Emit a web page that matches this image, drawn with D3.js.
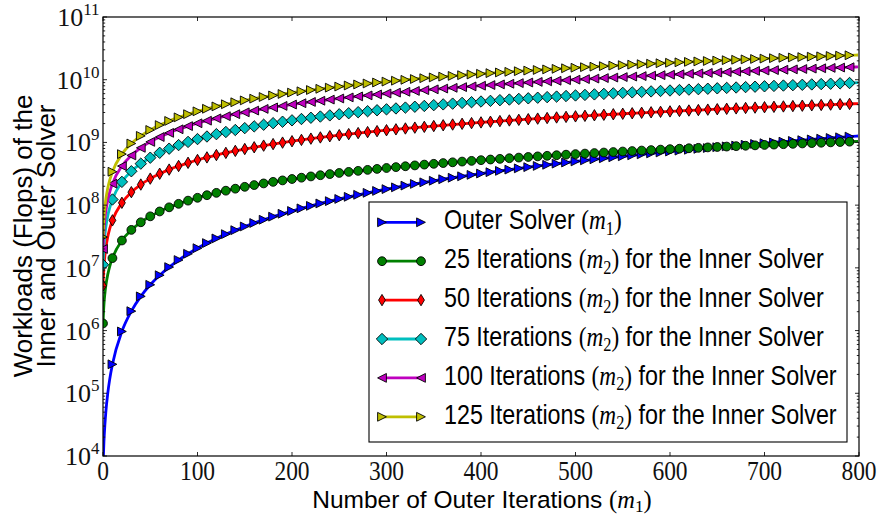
<!DOCTYPE html>
<html>
<head>
<meta charset="utf-8">
<script src="https://cdn.jsdelivr.net/npm/d3@7"></script>
<style>
  body { margin: 0; background: #fff; }
  svg { display: block; }
</style>
</head>
<body>
<svg id="chart" width="878" height="516"></svg>
<script>
// Outer iteration index (m1 = index + 1)
const outerIndex = [0, 1, 2, 3, 5, 7,
  10, 20, 30, 40, 50, 60, 70, 80, 90, 100, 110, 120, 130, 140, 150, 160, 170, 180, 190, 200,
  210, 220, 230, 240, 250, 260, 270, 280, 290, 300, 310, 320, 330, 340, 350, 360, 370, 380, 390, 400,
  410, 420, 430, 440, 450, 460, 470, 480, 490, 500, 510, 520, 530, 540, 550, 560, 570, 580, 590, 600,
  610, 620, 630, 640, 650, 660, 670, 680, 690, 700, 710, 720, 730, 740, 750, 760, 770, 780, 790, 799];

// Workloads in millions of flops
const outerSolver = [0.00663, 0.0172, 0.0317, 0.0502, 0.099, 0.1635,
  0.29, 0.968, 2.04, 3.51, 5.37, 7.63, 10.28, 13.33, 16.77, 20.6, 24.83, 29.46, 34.48, 39.89, 45.7, 51.91, 58.51, 65.5, 72.89, 80.67,
  88.85, 97.42, 106.4, 115.8, 125.5, 135.7, 146.2, 157.1, 168.5, 180.2, 192.3, 204.9, 217.8, 231.1, 244.8, 258.9, 273.4, 288.3, 303.6, 319.2,
  335.3, 351.8, 368.6, 385.9, 403.5, 421.6, 440, 458.9, 478.1, 497.7, 517.7, 538.1, 559, 580.2, 601.8, 623.7, 646.1, 668.9, 692.1, 715.7,
  739.6, 764, 788.8, 813.9, 839.4, 865.4, 891.7, 918.5, 945.6, 973.1, 1001, 1029, 1058, 1087, 1117, 1147, 1177, 1208, 1239, 1267];

const inner25 = [1.3, 2.6, 3.9, 5.2, 7.8, 10.4,
  14.3, 27.3, 40.3, 53.3, 66.3, 79.3, 92.3, 105, 118, 131, 144, 157, 170, 183, 196, 209, 222, 235, 248, 261,
  274, 287, 300, 313, 326, 339, 352, 365, 378, 391, 404, 417, 430, 443, 456, 469, 482, 495, 508, 521,
  534, 547, 560, 573, 586, 599, 612, 625, 638, 651, 664, 677, 690, 703, 716, 729, 742, 755, 768, 781,
  794, 807, 820, 833, 846, 859, 872, 885, 898, 911, 924, 937, 950, 963, 976, 989, 1002, 1015, 1028, 1040];

const inner50 = [5.2, 10.4, 15.6, 20.8, 31.2, 41.6,
  57.2, 109, 161, 213, 265, 317, 369, 421, 473, 525, 577, 629, 681, 733, 785, 837, 889, 941, 993, 1045,
  1097, 1149, 1201, 1253, 1305, 1357, 1409, 1461, 1513, 1565, 1617, 1669, 1721, 1773, 1825, 1877, 1929, 1981, 2033, 2085,
  2137, 2189, 2241, 2293, 2345, 2397, 2449, 2501, 2553, 2605, 2657, 2709, 2761, 2813, 2865, 2917, 2969, 3021, 3073, 3125,
  3177, 3229, 3281, 3333, 3385, 3437, 3489, 3541, 3593, 3645, 3697, 3749, 3801, 3853, 3905, 3957, 4009, 4061, 4113, 4160];

const inner75 = [11.2, 22.4, 33.6, 44.8, 67.2, 89.6,
  123, 235, 347, 459, 571, 683, 795, 907, 1019, 1131, 1243, 1355, 1467, 1579, 1691, 1803, 1915, 2027, 2139, 2251,
  2363, 2475, 2587, 2699, 2811, 2923, 3035, 3147, 3259, 3371, 3483, 3595, 3707, 3819, 3931, 4043, 4155, 4267, 4379, 4491,
  4603, 4715, 4827, 4939, 5051, 5163, 5275, 5387, 5499, 5611, 5723, 5835, 5947, 6059, 6171, 6283, 6395, 6507, 6619, 6731,
  6843, 6955, 7067, 7179, 7291, 7403, 7515, 7627, 7739, 7851, 7963, 8075, 8187, 8299, 8411, 8523, 8635, 8747, 8859, 8960];

const inner100 = [20, 40, 60, 80, 120, 160,
  220, 420, 620, 820, 1020, 1220, 1420, 1620, 1820, 2020, 2220, 2420, 2620, 2820, 3020, 3220, 3420, 3620, 3820, 4020,
  4220, 4420, 4620, 4820, 5020, 5220, 5420, 5620, 5820, 6020, 6220, 6420, 6620, 6820, 7020, 7220, 7420, 7620, 7820, 8020,
  8220, 8420, 8620, 8820, 9020, 9220, 9420, 9620, 9820, 10020, 10220, 10420, 10620, 10820, 11020, 11220, 11420, 11620, 11820, 12020,
  12220, 12420, 12620, 12820, 13020, 13220, 13420, 13620, 13820, 14020, 14220, 14420, 14620, 14820, 15020, 15220, 15420, 15620, 15820, 16000];

const inner125 = [31, 62, 93, 124, 186, 248,
  341, 651, 961, 1271, 1581, 1891, 2201, 2511, 2821, 3131, 3441, 3751, 4061, 4371, 4681, 4991, 5301, 5611, 5921, 6231,
  6541, 6851, 7161, 7471, 7781, 8091, 8401, 8711, 9021, 9331, 9641, 9951, 10261, 10571, 10881, 11191, 11501, 11811, 12121, 12431,
  12741, 13051, 13361, 13671, 13981, 14291, 14601, 14911, 15221, 15531, 15841, 16151, 16461, 16771, 17081, 17391, 17701, 18011, 18321, 18631,
  18941, 19251, 19561, 19871, 20181, 20491, 20801, 21111, 21421, 21731, 22041, 22351, 22661, 22971, 23281, 23591, 23901, 24211, 24521, 24800];

const seriesLabels = [
  ["Outer Solver ", "1", ""],
  ["25 Iterations ", "2", " for the Inner Solver"],
  ["50 Iterations ", "2", " for the Inner Solver"],
  ["75 Iterations ", "2", " for the Inner Solver"],
  ["100 Iterations ", "2", " for the Inner Solver"],
  ["125 Iterations ", "2", " for the Inner Solver"]
];
const seriesValues = [outerSolver, inner25, inner50, inner75, inner100, inner125];
const xTickValues = [0, 100, 200, 300, 400, 500, 600, 700, 800];
const yTickExponents = [4, 5, 6, 7, 8, 9, 10, 11];
const FLOPS_UNIT = 1e6;

// ---- styling ----
const colors = ["#0000ff", "#008000", "#ff0000", "#00bfbf", "#bf00bf", "#bfbf00"];
const markerKinds = ["triRight", "circle", "thinDiamond", "diamond", "triLeft", "triRight"];
const SANS = "'Liberation Sans', Arial, Helvetica, sans-serif";
const SERIF = "'Liberation Serif', 'Times New Roman', serif";

const svg = d3.select("#chart");
const plot = { left: 103, right: 859, top: 17, bottom: 456 };

const x = d3.scaleLinear().domain([0, 800]).range([plot.left, plot.right]);
const y = d3.scaleLog().domain([1e4, 1e11]).range([plot.bottom, plot.top]);

svg.append("rect").attr("width", 878).attr("height", 516).attr("fill", "#fff");

svg.append("defs").append("clipPath").attr("id", "plotClip")
  .append("rect")
  .attr("x", plot.left).attr("y", plot.top)
  .attr("width", plot.right - plot.left).attr("height", plot.bottom - plot.top);

function markerPath(kind) {
  const r = 4.4, dg = 5.7;
  switch (kind) {
    case "circle": return d3.symbol(d3.symbolCircle, Math.PI * r * r)();
    case "triRight": return `M${r},0L${-r},${-r}L${-r},${r}Z`;
    case "triLeft": return `M${-r},0L${r},${-r}L${r},${r}Z`;
    case "diamond": return `M0,${-dg}L${dg},0L0,${dg}L${-dg},0Z`;
    case "thinDiamond": return `M0,${-dg}L${dg * 0.6},0L0,${dg}L${-dg * 0.6},0Z`;
  }
}

// ---- series ----
const series = seriesValues.map((vals, i) => ({
  color: colors[i],
  kind: markerKinds[i],
  points: outerIndex.map((xi, j) => ({ x: xi, v: vals[j] * FLOPS_UNIT }))
}));

const line = d3.line()
  .x(d => x(d.x))
  .y(d => y(d.v))
  .curve(d3.curveMonotoneX);

const dataLayer = svg.append("g").attr("clip-path", "url(#plotClip)");
series.forEach(s => {
  const g = dataLayer.append("g");
  g.append("path")
    .attr("d", line(s.points))
    .attr("fill", "none")
    .attr("stroke", s.color)
    .attr("stroke-width", 2.8);
  g.selectAll("path.mk")
    .data(s.points.filter(d => d.x % 10 === 0))
    .join("path")
    .attr("class", "mk")
    .attr("transform", d => `translate(${x(d.x)},${y(d.v)})`)
    .attr("d", markerPath(s.kind))
    .attr("fill", s.color)
    .attr("stroke", "#000")
    .attr("stroke-width", 0.9);
});

// ---- axes frame and ticks ----
const axisLayer = svg.append("g");
const tickColor = "#111";
function tick(x1, y1, x2, y2) {
  axisLayer.append("line")
    .attr("x1", x1).attr("y1", y1).attr("x2", x2).attr("y2", y2)
    .attr("stroke", tickColor).attr("stroke-width", 0.9);
}
const MAJOR = 4, MINOR = 2.2;
xTickValues.forEach(v => {
  tick(x(v), plot.bottom, x(v), plot.bottom - MAJOR);
  tick(x(v), plot.top, x(v), plot.top + MAJOR);
});
yTickExponents.forEach(e => {
  const py = y(Math.pow(10, e));
  tick(plot.left, py, plot.left + MAJOR, py);
  tick(plot.right, py, plot.right - MAJOR, py);
  if (e < 11) {
    for (let k = 2; k <= 9; k++) {
      const my = y(k * Math.pow(10, e));
      tick(plot.left, my, plot.left + MINOR, my);
      tick(plot.right, my, plot.right - MINOR, my);
    }
  }
});
axisLayer.append("rect")
  .attr("x", plot.left).attr("y", plot.top)
  .attr("width", plot.right - plot.left).attr("height", plot.bottom - plot.top)
  .attr("fill", "none").attr("stroke", "#000").attr("stroke-width", 1.2);

// ---- tick labels ----
xTickValues.forEach(v => {
  svg.append("g")
    .attr("transform", `translate(${x(v)},479.5) scale(1,1.14)`)
    .append("text")
    .attr("text-anchor", "middle")
    .attr("font-family", SERIF)
    .attr("font-size", 23.5)
    .attr("fill", "#111")
    .text(v);
});
yTickExponents.forEach(e => {
  const t = svg.append("text")
    .attr("x", 99.5)
    .attr("y", y(Math.pow(10, e)) + 9)
    .attr("text-anchor", "end")
    .attr("font-family", SERIF)
    .attr("fill", "#111");
  t.append("tspan").attr("font-size", 26).text("10");
  t.append("tspan").attr("font-size", 17).attr("dy", -11).text(e);
});

// ---- mathtext helper: "(m_k)" ----
function appendMath(textSel, sub, size) {
  textSel.append("tspan").attr("font-family", SERIF).text("(");
  textSel.append("tspan").attr("font-family", SERIF).attr("font-style", "italic").text("m");
  textSel.append("tspan").attr("font-family", SERIF).attr("font-size", size * 0.7).attr("dy", size * 0.2).text(sub);
  textSel.append("tspan").attr("font-family", SERIF).attr("dy", -size * 0.2).text(")");
}

// ---- axis labels ----
{
  const size = 24.5;
  const t = svg.append("text")
    .attr("x", (plot.left + plot.right) / 2 + 1)
    .attr("y", 507.5)
    .attr("text-anchor", "middle")
    .attr("font-family", SANS)
    .attr("font-size", size)
    .attr("fill", "#000");
  t.append("tspan").text("Number of Outer Iterations ");
  appendMath(t, "1", size);
}
[["Workloads (Flops) of the", 32], ["Inner and Outer Solver", 55]].forEach(([txt, bx]) => {
  svg.append("g")
    .attr("transform", `translate(${bx},236) scale(1,1.04) rotate(-90)`)
    .append("text")
    .attr("text-anchor", "middle")
    .attr("font-family", SANS)
    .attr("font-size", 25)
    .attr("fill", "#000")
    .text(txt);
});

// ---- legend ----
const legend = { left: 369, top: 202, right: 847, bottom: 442, row0: 20.3, rowStep: 38.9 };
svg.append("rect")
  .attr("x", legend.left).attr("y", legend.top)
  .attr("width", legend.right - legend.left).attr("height", legend.bottom - legend.top)
  .attr("fill", "#fff").attr("stroke", "#000").attr("stroke-width", 1.1);

series.forEach((s, i) => {
  const cy = legend.top + legend.row0 + i * legend.rowStep;
  const g = svg.append("g");
  g.append("line")
    .attr("x1", 382).attr("x2", 421).attr("y1", cy).attr("y2", cy)
    .attr("stroke", s.color).attr("stroke-width", 2.8);
  [382, 421].forEach(px => {
    g.append("path")
      .attr("transform", `translate(${px},${cy})`)
      .attr("d", markerPath(s.kind))
      .attr("fill", s.color).attr("stroke", "#000").attr("stroke-width", 0.9);
  });
  const size = 23.3;
  const [pre, sub, post] = seriesLabels[i];
  const t = g.append("g")
    .attr("transform", `translate(444,${cy + 7}) scale(1,1.17)`)
    .append("text")
    .attr("font-family", SANS)
    .attr("font-size", size)
    .attr("fill", "#000");
  t.append("tspan").text(pre);
  appendMath(t, sub, size);
  if (post) t.append("tspan").text(post);
});
</script>
</body>
</html>
